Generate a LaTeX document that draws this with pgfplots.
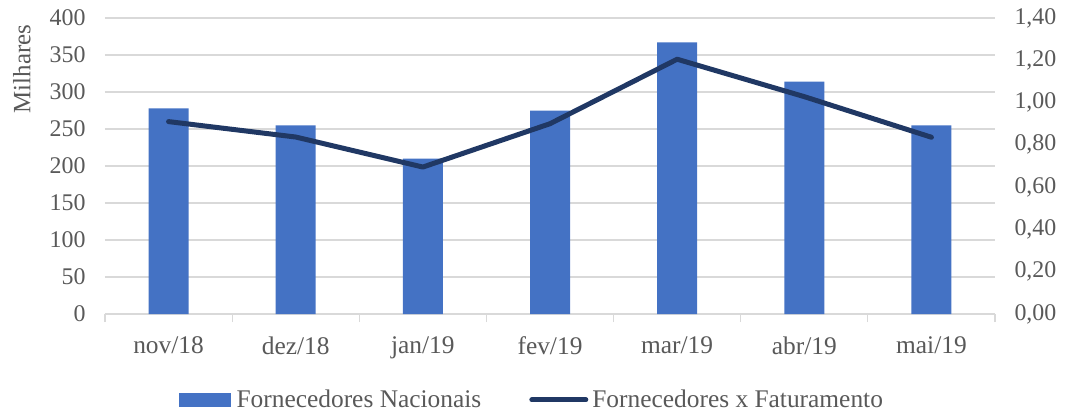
\documentclass[border=0pt]{standalone}
\usepackage{pgfplots}
\pgfplotsset{compat=1.18}
\usepackage{fontspec}
\setmainfont{Liberation Serif}
\definecolor{barblue}{HTML}{4472C4}
\definecolor{navy}{HTML}{203864}
\definecolor{txt}{HTML}{595959}
\definecolor{gridc}{HTML}{D9D9D9}
\begin{document}
\begin{tikzpicture}
\pgfplotsset{
  every axis/.append style={
    scale only axis, width=890bp, height=296bp,
    xmin=-0.5, xmax=6.5,
    font=\fontsize{24}{28}\selectfont,
    tick label style={text=txt},
    /pgf/number format/assume math mode=true,
  }
}
\begin{axis}[
  clip=false,
  ymin=0, ymax=400, ytick={0,50,...,400},
  ymajorgrids, grid style={gridc, line width=1.2bp},
  xtick={0,...,6},
  xticklabels={nov/18,dez/18,jan/19,fev/19,mar/19,abr/19,mai/19},
  minor xtick={-0.5,0.5,...,6.5},
  major x tick style={draw=none},
  minor x tick style={gridc, line width=1.2bp},
  xminorgrids=false,
  minor tick length=8bp,
  xtick align=outside,
  major tick length=0pt,
  axis x line*=bottom,
  axis y line*=left,
  y axis line style={draw=none},
  x axis line style={gridc, line width=1.2bp},
  ytick style={draw=none},
  yticklabel style={xshift=-16bp},
  xticklabel style={yshift=-19bp, font=\fontsize{25.5}{28}\selectfont},
  legend style={draw=none, fill=none, at={(0.4795,-0.29)}, anchor=center,
    legend columns=2, text=txt, font=\fontsize{25.5}{28}\selectfont,
    /tikz/every even column/.append style={column sep=46bp}},
  legend cell align=left,
]
\addplot[ybar, bar width=40bp, fill=barblue, draw=none,
  legend image code/.code={\fill[barblue] (0bp,-7bp) rectangle (52bp,7bp);}]
  coordinates {(0,278) (1,255) (2,210) (3,275) (4,367) (5,314) (6,255)};
\addlegendentry{\hspace{4bp}Fornecedores Nacionais}
\addlegendimage{navy, line width=5bp, line cap=round,
  legend image code/.code={\draw[navy, line width=5bp, line cap=round] (0bp,0bp) -- (54bp,0bp);}}
\addlegendentry{\hspace{2bp}Fornecedores x Faturamento}
\node[rotate=90, text=txt, font=\fontsize{25}{28}\selectfont] at (rel axis cs:-0.0933,0.828) {Milhares};
\end{axis}
\begin{axis}[
  ymin=0, ymax=1.4, ytick={0,0.2,...,1.4},
  axis x line=none,
  axis y line*=right,
  y axis line style={draw=none},
  ytick style={draw=none},
  major tick length=0pt,
  yticklabel style={xshift=16bp, /pgf/number format/.cd, fixed, fixed zerofill, precision=2, use comma},
]
\addplot[navy, line width=5bp, line cap=round, line join=round, mark=none]
  coordinates {(0,0.91) (1,0.837) (2,0.695) (3,0.90) (4,1.205) (5,1.028) (6,0.836)};
\end{axis}
\pgfresetboundingbox
\path[use as bounding box] (-105bp,-100bp) rectangle (960bp,314bp);
\end{tikzpicture}
\end{document}
